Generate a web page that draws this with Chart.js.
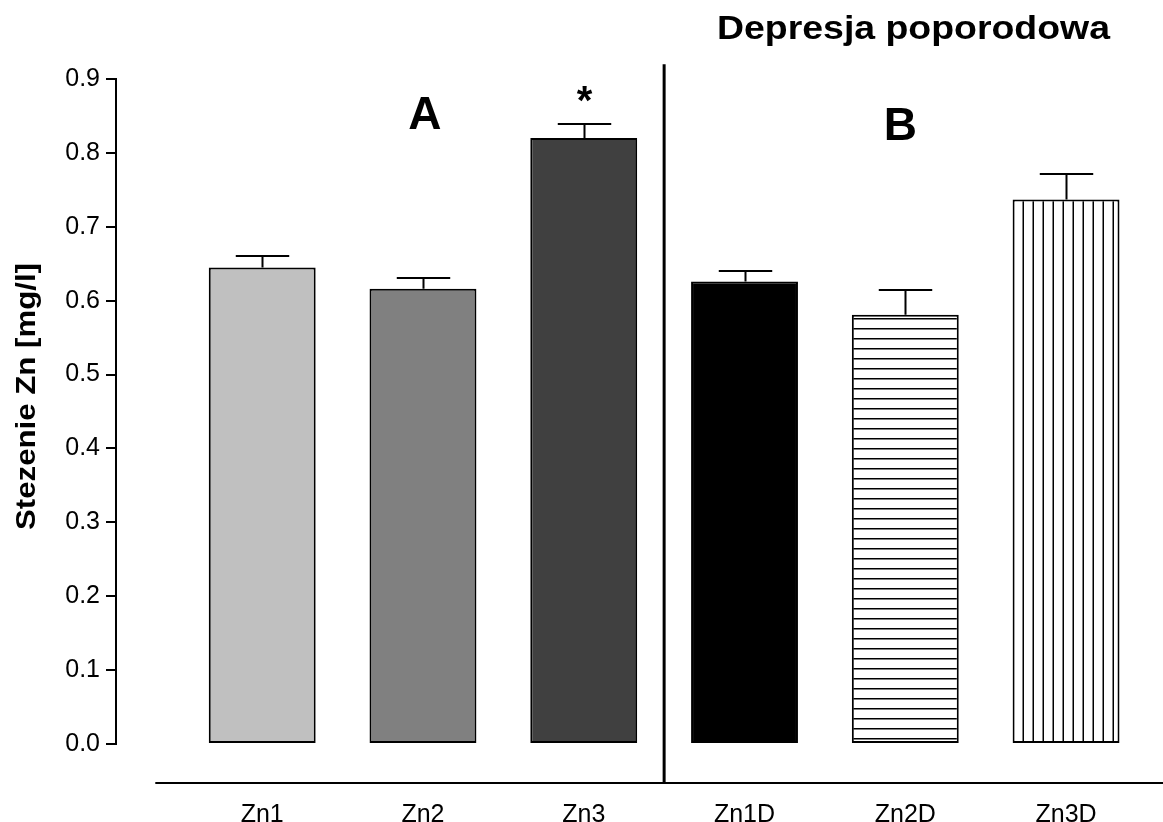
<!DOCTYPE html>
<html>
<head>
<meta charset="utf-8">
<title>Stezenie Zn</title>
<script src="https://cdn.jsdelivr.net/npm/chart.js@4.4.1/dist/chart.umd.min.js"></script>
<style>
  html, body { margin: 0; padding: 0; background: #ffffff; }
  canvas { display: block; }
</style>
</head>
<body>
<canvas id="chart" width="1163" height="822"></canvas>
<script>
// Zinc concentration per group: mean and standard error (mg/l)
const categories = ['Zn1', 'Zn2', 'Zn3', 'Zn1D', 'Zn2D', 'Zn3D'];
const means = [0.645, 0.616, 0.820, 0.626, 0.581, 0.737];
const errors = [0.016, 0.015, 0.019, 0.014, 0.034, 0.035];
const yTicks = [0.0, 0.1, 0.2, 0.3, 0.4, 0.5, 0.6, 0.7, 0.8, 0.9];
const marks = ['', '', '*', '', '', ''];
const panelLabels = ['A', 'B'];
const panelIndex = [1, 4];
const headerText = 'Depresja poporodowa';
const yTitle = 'Stezenie Zn [mg/l]';

const FONT = '"Liberation Sans", Arial, Helvetica, sans-serif';
const canvas = document.getElementById('chart');
const ctx = canvas.getContext('2d');

// Striped fills for the two hatched bars
function stripes(direction) {
  const p = document.createElement('canvas');
  p.width = 10; p.height = 10;
  const g = p.getContext('2d');
  g.fillStyle = '#ffffff';
  g.fillRect(0, 0, 10, 10);
  g.fillStyle = '#000000';
  if (direction === 'h') g.fillRect(0, 8, 10, 1.5);
  else g.fillRect(2.5, 0, 1.5, 10);
  return ctx.createPattern(p, 'repeat');
}

const fills = ['#c0c0c0', '#808080', '#404040', '#000000', stripes('h'), stripes('v')];

// Error bars, separators, panel letters and titles
const decorations = {
  id: 'decorations',
  afterDatasetsDraw(chart) {
    const c = chart.ctx;
    const { x, y } = chart.scales;
    const bars = chart.getDatasetMeta(0).data;
    c.save();
    c.strokeStyle = '#000000';
    c.fillStyle = '#000000';

    // error bars (upper whisker only)
    c.lineWidth = 2;
    means.forEach((m, i) => {
      const cx = Math.round(x.getPixelForValue(i)) + 0.5;
      const top = y.getPixelForValue(m);
      const cap = Math.round(y.getPixelForValue(m + errors[i]));
      const half = bars[i].width / 4;
      c.beginPath();
      c.moveTo(cx, top);
      c.lineTo(cx, cap);
      c.moveTo(cx - half, cap);
      c.lineTo(cx + half, cap);
      c.stroke();
      if (marks[i]) {
        c.font = 'bold 40px ' + FONT;
        c.textAlign = 'center';
        c.textBaseline = 'alphabetic';
        c.fillText(marks[i], cx, cap - 10);
      }
    });

    // lower axis line, offset below the zero line
    const base = y.getPixelForValue(0) + 39;
    c.lineWidth = 2;
    c.beginPath();
    c.moveTo(x.getPixelForValue(-0.665), base);
    c.lineTo(chart.chartArea.right, base);
    c.stroke();

    // vertical separator between the two groups
    const sx = x.getPixelForValue(2.5);
    c.lineWidth = 3;
    c.beginPath();
    c.moveTo(sx, y.getPixelForValue(0.92));
    c.lineTo(sx, base);
    c.stroke();

    // panel letters
    c.font = 'bold 46px ' + FONT;
    c.textAlign = 'center';
    c.textBaseline = 'alphabetic';
    c.fillText(panelLabels[0], x.getPixelForValue(panelIndex[0]) + 2, y.getPixelForValue(0.832));
    c.fillText(panelLabels[1], x.getPixelForValue(panelIndex[1]) - 5, y.getPixelForValue(0.818));

    // header over the second group
    c.save();
    c.font = 'bold 33px ' + FONT;
    const hw = c.measureText(headerText).width;
    c.translate(913.5, 39);
    c.scale(393 / hw, 1);
    c.fillText(headerText, 0, 0);
    c.restore();

    // y axis title
    c.save();
    c.font = 'bold 27px ' + FONT;
    const tw = c.measureText(yTitle).width;
    c.translate(35, 396.5);
    c.rotate(-Math.PI / 2);
    c.scale(267 / tw, 1);
    c.fillText(yTitle, 0, 0);
    c.restore();

    c.restore();
  }
};

new Chart(ctx, {
  type: 'bar',
  data: {
    datasets: [{
      data: means.map((v, i) => ({ x: i, y: v })),
      backgroundColor: fills,
      borderColor: '#000000',
      borderWidth: 2,
      borderSkipped: false,
      barPercentage: 0.665,
      categoryPercentage: 1.0
    }]
  },
  options: {
    responsive: false,
    animation: false,
    devicePixelRatio: 1,
    layout: { padding: { top: 79, right: 0, bottom: 0, left: 0 } },
    plugins: {
      legend: { display: false },
      tooltip: { enabled: false },
      title: { display: false }
    },
    scales: {
      x: {
        type: 'linear',
        position: 'bottom',
        min: -0.9094,
        max: 5.603,
        offset: false,
        grid: { display: false, drawTicks: false },
        border: { display: false },
        afterBuildTicks: s => { s.ticks = categories.map((_, i) => ({ value: i })); },
        afterFit: s => { s.height = 78; },
        ticks: {
          autoSkip: false,
          maxRotation: 0,
          padding: 56,
          color: '#000000',
          font: { family: FONT, size: 25 },
          callback: v => categories[v] ?? ''
        }
      },
      y: {
        min: 0,
        max: 0.9,
        position: 'left',
        afterBuildTicks: s => { s.ticks = yTicks.map(v => ({ value: v })); },
        afterFit: s => { s.width = 116; },
        grid: {
          display: true,
          drawOnChartArea: false,
          drawTicks: true,
          tickLength: 10,
          color: '#000000',
          lineWidth: 2
        },
        border: { display: true, color: '#000000', width: 2 },
        ticks: {
          padding: 6,
          color: '#000000',
          font: { family: FONT, size: 25 },
          callback: v => Number(v).toFixed(1)
        }
      }
    }
  },
  plugins: [decorations]
});
</script>
</body>
</html>
